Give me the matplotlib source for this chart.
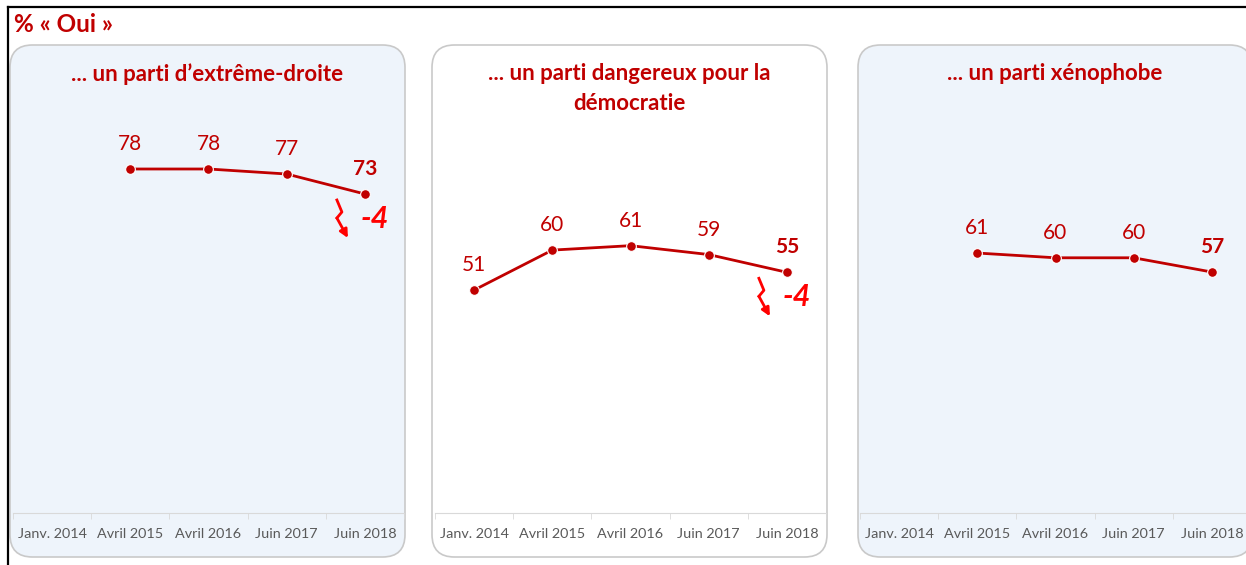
import matplotlib.pyplot as plt
import numpy as np
from matplotlib.patches import FancyBboxPatch
from matplotlib.lines import Line2D

plt.rcParams['font.family'] = ['Lato', 'DejaVu Sans']

# données
periodes = ["Janv. 2014", "Avril 2015", "Avril 2016", "Juin 2017", "Juin 2018"]
titres = ["... un parti d\u2019extrême-droite",
          "... un parti dangereux pour la\ndémocratie",
          "... un parti xénophobe"]
extreme_droite = [None, 78, 78, 77, 73]
dangereux = [51, 60, 61, 59, 55]
xenophobe = [None, 61, 60, 60, 57]
evolutions = ["-4", "-4", None]

series = [extreme_droite, dangereux, xenophobe]
# limites y de chaque panneau (échelles différentes dans l'original)
ylims = [(9.2, 91.8), (0.8, 93.8), (6.3, 93.2)]

W, H = 1246, 565
ROUGE = "#C00000"
fig = plt.figure(figsize=(W / 100, H / 100), dpi=100)

def fx(px):
    return px / W

def fy(py):
    return 1 - py / H

# cadre noir
fig.add_artist(Line2D([fx(8), fx(8)], [fy(7), 0], color="black", lw=1.6))
fig.add_artist(Line2D([fx(8), 1], [fy(7), fy(7)], color="black", lw=1.6))

fig.text(fx(14), fy(25), "% « Oui »", color=ROUGE, fontsize=17.5, fontweight="bold",
         va="center", ha="left")

panneaux = [(10, 405, "#EEF4FB"), (432, 827, "white"), (858, 1252, "#EEF4FB")]
axes_x = [(13, 404), (435, 826), (860, 1251)]

for i in range(3):
    x0, x1, fond = panneaux[i]
    box = FancyBboxPatch((fx(x0), fy(557)), fx(x1 - x0), (557 - 45) / H,
                         boxstyle="round,pad=0,rounding_size=0.018",
                         transform=fig.transFigure, facecolor=fond,
                         edgecolor="#C9C9C9", lw=1.2, mutation_aspect=W / H, zorder=-1)
    fig.add_artist(box)
    ty = 88.5 if "\n" in titres[i] else 74
    fig.text(fx((x0 + x1) / 2), fy(ty), titres[i], color=ROUGE, fontsize=16,
             fontweight="bold", ha="center", va="center", linespacing=1.55)

for i in range(3):
    a0, a1 = axes_x[i]
    ax = fig.add_axes([fx(a0), fy(513), fx(a1 - a0), (513 - 100) / H])
    ax.set_facecolor("none")
    ax.set_xlim(-0.5, 4.5)
    ax.set_ylim(*ylims[i])
    for s in ["top", "left", "right"]:
        ax.spines[s].set_visible(False)
    ax.spines["bottom"].set_color("#D9D9D9")
    ax.set_yticks([])
    ax.set_xticks(range(5))
    ax.set_xticklabels(periodes, fontsize=10.4, color="#595959")
    ax.tick_params(axis="x", length=0, pad=11)
    ax.set_xticks(np.arange(-0.5, 5, 1), minor=True)
    ax.tick_params(axis="x", which="minor", length=4, color="#D9D9D9")

    vals = series[i]
    xs = [k for k in range(5) if vals[k] is not None]
    ys = [vals[k] for k in xs]
    ax.plot(xs, ys, color=ROUGE, lw=2, marker="o", ms=7, mfc=ROUGE,
            mec="white", mew=0.8, zorder=3, clip_on=False)
    for j, (x, y) in enumerate(zip(xs, ys)):
        dernier = j == len(xs) - 1
        ax.annotate(str(y), (x, y), xytext=(0, 18), textcoords="offset points",
                    ha="center", va="center", color=ROUGE, fontsize=15,
                    fontweight="bold" if dernier else "normal")

    if evolutions[i]:
        xl, yl = xs[-1], ys[-1]
        base = ax.transData.transform((xl, yl))
        decal = np.array([(-28, 6), (-23, 18), (-28, 24), (-17, 44)], dtype=float)
        pts = base + decal * np.array([1, -1])
        data = ax.transData.inverted().transform(pts)
        ax.plot(data[:3, 0], data[:3, 1], color="#FF0000", lw=2, clip_on=False)
        ax.annotate("", xy=data[3], xytext=data[2],
                    arrowprops=dict(arrowstyle="-|>", color="#FF0000", lw=2,
                                    mutation_scale=12, shrinkA=0, shrinkB=0))
        ax.annotate(evolutions[i], (xl, yl), xytext=(10, -25), textcoords="offset pixels",
                    ha="center", va="center", color="#FF0000", fontsize=22,
                    fontweight="bold", fontstyle="italic")

fig.savefig("out.png", dpi=100)
